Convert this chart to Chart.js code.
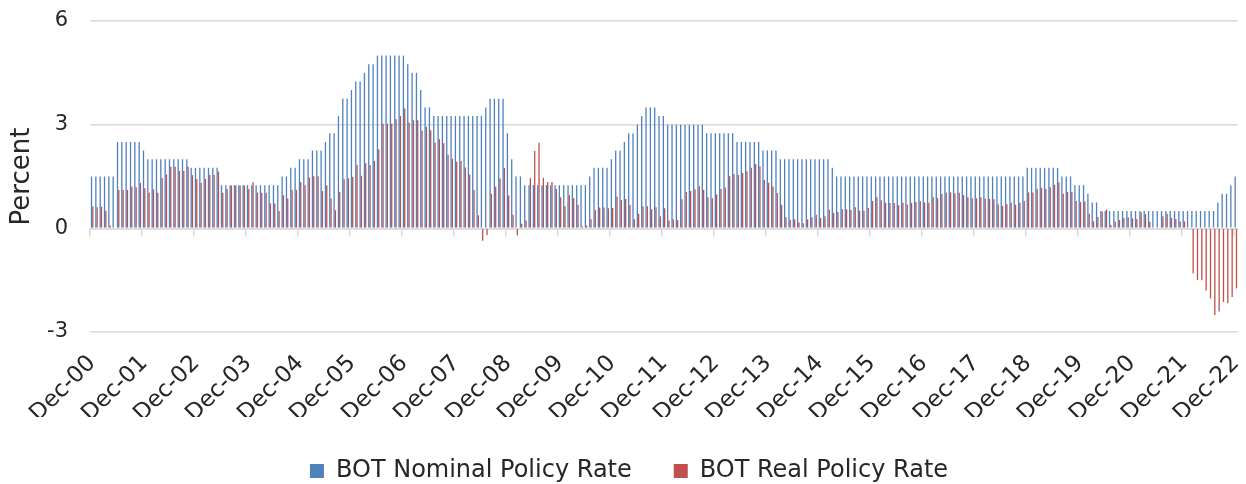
<!DOCTYPE html>
<html lang="en">
<head>
<meta charset="UTF-8">
<title>BOT Nominal vs Real Policy Rate</title>
<script src="https://cdn.jsdelivr.net/npm/chart.js"></script>
<style>
  html, body { margin: 0; padding: 0; background: #fff; }
  #wrap { width: 1246px; height: 484px; }
</style>
</head>
<body>
<div id="wrap"><canvas id="chart"></canvas></div>
<script>
  // monthly, Dec-00 .. Dec-22
  const monthNames = ['Jan', 'Feb', 'Mar', 'Apr', 'May', 'Jun', 'Jul', 'Aug', 'Sep', 'Oct', 'Nov', 'Dec'];
  const firstYear = 2000;
  const firstMonth = 11; // Dec
  const monthCount = 265;

  const nominalRate = [
    1.5, 1.5, 1.5, 1.5, 1.5, 1.5, 2.5, 2.5, 2.5, 2.5, 2.5, 2.5,
    2.25, 2.0, 2.0, 2.0, 2.0, 2.0, 2.0, 2.0, 2.0, 2.0, 2.0, 1.75,
    1.75, 1.75, 1.75, 1.75, 1.75, 1.75, 1.25, 1.25, 1.25, 1.25, 1.25, 1.25,
    1.25, 1.25, 1.25, 1.25, 1.25, 1.25, 1.25, 1.25, 1.5, 1.5, 1.75, 1.75,
    2.0, 2.0, 2.0, 2.25, 2.25, 2.25, 2.5, 2.75, 2.75, 3.25, 3.75, 3.75,
    4.0, 4.25, 4.25, 4.5, 4.75, 4.75, 5.0, 5.0, 5.0, 5.0, 5.0, 5.0,
    5.0, 4.75, 4.5, 4.5, 4.0, 3.5, 3.5, 3.25, 3.25, 3.25, 3.25, 3.25,
    3.25, 3.25, 3.25, 3.25, 3.25, 3.25, 3.25, 3.5, 3.75, 3.75, 3.75, 3.75,
    2.75, 2.0, 1.5, 1.5, 1.25, 1.25, 1.25, 1.25, 1.25, 1.25, 1.25, 1.25,
    1.25, 1.25, 1.25, 1.25, 1.25, 1.25, 1.25, 1.5, 1.75, 1.75, 1.75, 1.75,
    2.0, 2.25, 2.25, 2.5, 2.75, 2.75, 3.0, 3.25, 3.5, 3.5, 3.5, 3.25,
    3.25, 3.0, 3.0, 3.0, 3.0, 3.0, 3.0, 3.0, 3.0, 3.0, 2.75, 2.75,
    2.75, 2.75, 2.75, 2.75, 2.75, 2.5, 2.5, 2.5, 2.5, 2.5, 2.5, 2.25,
    2.25, 2.25, 2.25, 2.0, 2.0, 2.0, 2.0, 2.0, 2.0, 2.0, 2.0, 2.0,
    2.0, 2.0, 2.0, 1.75, 1.5, 1.5, 1.5, 1.5, 1.5, 1.5, 1.5, 1.5,
    1.5, 1.5, 1.5, 1.5, 1.5, 1.5, 1.5, 1.5, 1.5, 1.5, 1.5, 1.5,
    1.5, 1.5, 1.5, 1.5, 1.5, 1.5, 1.5, 1.5, 1.5, 1.5, 1.5, 1.5,
    1.5, 1.5, 1.5, 1.5, 1.5, 1.5, 1.5, 1.5, 1.5, 1.5, 1.5, 1.5,
    1.75, 1.75, 1.75, 1.75, 1.75, 1.75, 1.75, 1.75, 1.5, 1.5, 1.5, 1.25,
    1.25, 1.25, 1.0, 0.75, 0.75, 0.5, 0.5, 0.5, 0.5, 0.5, 0.5, 0.5,
    0.5, 0.5, 0.5, 0.5, 0.5, 0.5, 0.5, 0.5, 0.5, 0.5, 0.5, 0.5,
    0.5, 0.5, 0.5, 0.5, 0.5, 0.5, 0.5, 0.5, 0.75, 1.0, 1.0, 1.25,
    1.5
  ];

  const realRate = [
    0.63, 0.61, 0.63, 0.51, 0.08, 0.0, 1.11, 1.11, 1.11, 1.2, 1.19, 1.31,
    1.16, 1.03, 1.13, 1.03, 1.46, 1.56, 1.78, 1.78, 1.66, 1.66, 1.78, 1.54,
    1.43, 1.32, 1.43, 1.54, 1.54, 1.64, 1.03, 1.14, 1.24, 1.24, 1.24, 1.24,
    1.14, 1.33, 1.03, 1.03, 1.03, 0.72, 0.72, 0.5, 0.96, 0.86, 1.11, 1.11,
    1.34, 1.25, 1.47, 1.51, 1.51, 1.08, 1.24, 0.86, 0.52, 1.05, 1.43, 1.45,
    1.49, 1.83, 1.52, 1.88, 1.83, 1.95, 2.29, 3.03, 3.03, 3.03, 3.16, 3.25,
    3.47, 3.06, 3.13, 3.13, 2.83, 2.94, 2.84, 2.48, 2.58, 2.46, 2.13, 2.01,
    1.93, 1.95, 1.76, 1.55, 1.11, 0.38, -0.36, -0.2, 1.0, 1.2, 1.44, 1.75,
    0.95, 0.39, -0.2, 0.13, 0.23, 1.46, 2.24, 2.48, 1.46, 1.34, 1.34, 1.14,
    0.9, 0.64, 0.96, 0.87, 0.68, 0.06, 0.08, 0.26, 0.52, 0.6, 0.6, 0.58,
    0.59, 0.92, 0.82, 0.85, 0.68, 0.26, 0.42, 0.64, 0.64, 0.55, 0.61, 0.35,
    0.58, 0.23, 0.26, 0.24, 0.84, 1.05, 1.08, 1.13, 1.22, 1.11, 0.9, 0.87,
    0.98, 1.14, 1.18, 1.51, 1.57, 1.54, 1.6, 1.65, 1.75, 1.86, 1.79, 1.4,
    1.32, 1.21, 1.02, 0.68, 0.32, 0.24, 0.26, 0.17, 0.15, 0.26, 0.32, 0.39,
    0.3, 0.35, 0.54, 0.45, 0.47, 0.55, 0.55, 0.53, 0.61, 0.51, 0.51, 0.59,
    0.79, 0.9, 0.81, 0.74, 0.73, 0.73, 0.67, 0.74, 0.69, 0.74, 0.76, 0.79,
    0.75, 0.74, 0.9, 0.87, 0.99, 1.04, 1.04, 1.01, 1.03, 0.96, 0.9, 0.87,
    0.87, 0.9, 0.86, 0.85, 0.84, 0.7, 0.65, 0.7, 0.74, 0.68, 0.74, 0.79,
    1.04, 1.04, 1.14, 1.17, 1.14, 1.19, 1.26, 1.33, 1.0, 1.05, 1.05, 0.79,
    0.76, 0.78, 0.42, 0.2, 0.33, 0.49, 0.54, 0.1, 0.19, 0.24, 0.3, 0.32,
    0.29, 0.27, 0.46, 0.41, 0.19, 0.0, 0.0, 0.35, 0.42, 0.3, 0.27, 0.2,
    0.2, 0.0, -1.3, -1.5, -1.5, -1.8, -2.03, -2.51, -2.41, -2.13, -2.17, -1.99,
    -1.74
  ];

  const yTicks = [-3, 0, 3, 6];

  const labels = [];
  for (let i = 0; i < monthCount; i++) {
    const m = (firstMonth + i) % 12;
    const yr = firstYear + Math.floor((firstMonth + i) / 12);
    labels.push(monthNames[m] + '-' + String(yr % 100).padStart(2, '0'));
  }

  const gridColor = '#d9d9d9';
  const textColor = '#262626';
  const fontFamily = '"DejaVu Sans", sans-serif';

  new Chart(document.getElementById('chart'), {
    type: 'bar',
    data: {
      labels: labels,
      datasets: [
        { label: 'BOT Nominal Policy Rate', data: nominalRate, backgroundColor: '#4F81BD' },
        { label: 'BOT Real Policy Rate', data: realRate, backgroundColor: '#C0504D' }
      ]
    },
    options: {
      responsive: true,
      maintainAspectRatio: false,
      animation: false,
      datasets: {
        bar: { categoryPercentage: 0.6, barPercentage: 1.0, borderWidth: 0, inflateAmount: 0 }
      },
      layout: { padding: { top: 21, left: 20, right: 8, bottom: -9 } },
      plugins: {
        tooltip: { enabled: false },
        legend: {
          position: 'bottom',
          labels: {
            color: textColor,
            font: { family: fontFamily, size: 24 },
            boxWidth: 14,
            boxHeight: 14,
            padding: 42
          }
        }
      },
      scales: {
        x: {
          grid: { display: false, drawTicks: false },
          border: { display: false },
          ticks: {
            autoSkip: false,
            minRotation: 45,
            maxRotation: 45,
            padding: 18,
            color: textColor,
            font: { family: fontFamily, size: 23 },
            callback: (v, i) => (i % 12 === 0 ? labels[i] : '')
          },
          afterFit: s => { s.height = 85; s.paddingLeft = 0; s.paddingRight = 0; }
        },
        // zero line with yearly tick marks
        x2: {
          type: 'category',
          position: { y: 0 },
          offset: true,
          grid: {
            offset: true,
            drawOnChartArea: false,
            drawTicks: true,
            tickLength: 7,
            lineWidth: 1.5,
            color: c => (c.index !== undefined && c.index % 12 === 0 ? gridColor : 'rgba(0,0,0,0)')
          },
          border: { display: true, color: gridColor, width: 1.5 },
          ticks: { display: false, autoSkip: false }
        },
        y: {
          min: -3,
          max: 6,
          afterBuildTicks: s => { s.ticks = yTicks.map(v => ({ value: v })); },
          grid: { color: gridColor, lineWidth: 1.5, drawTicks: false },
          border: { display: false },
          ticks: {
            padding: 22,
            color: textColor,
            font: { family: fontFamily, size: 21 }
          },
          title: {
            display: true,
            text: 'Percent',
            color: textColor,
            font: { family: fontFamily, size: 26 },
            padding: { top: -13, bottom: 0 }
          },
          afterFit: s => { s.width = 70; s.paddingTop = 0; s.paddingBottom = 0; }
        }
      }
    }
  });
</script>
</body>
</html>
